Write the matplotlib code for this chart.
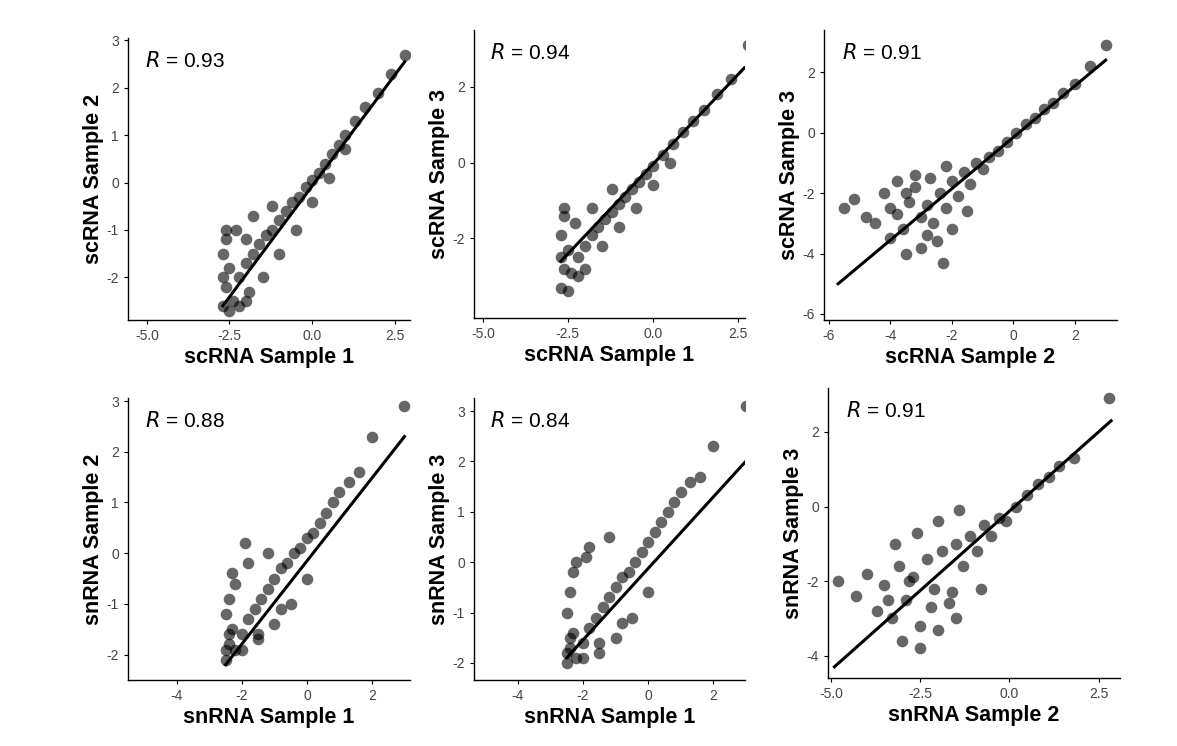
import matplotlib
matplotlib.use("Agg")
import matplotlib.pyplot as plt

plt.rcParams["font.family"] = "Liberation Sans"

# ---- data (hand-read representative points) ----
p1_x = [-2.7,-2.6,-2.5,-2.7,-2.6,-2.4,-2.2,-2.0,-1.8,-1.6,-1.4,-1.2,-1.0,-0.8,-0.6,-0.4,-0.2,0.0,0.2,0.4,0.6,0.8,1.0,1.3,1.6,2.0,2.4,2.8,-2.0,-1.5,-1.0,-0.5,0.0,0.5,1.0,-2.3,-1.8,-2.5,-2.0,-1.2,-2.7,-2.2,-1.9,-2.6]
p1_y = [-2.6,-2.2,-1.8,-1.5,-1.2,-2.5,-2.0,-1.7,-1.5,-1.3,-1.1,-1.0,-0.8,-0.6,-0.4,-0.3,-0.1,0.05,0.2,0.4,0.6,0.8,1.0,1.3,1.6,1.9,2.3,2.7,-2.5,-2.0,-1.5,-1.0,-0.4,0.1,0.7,-1.0,-0.7,-2.7,-1.2,-0.5,-2.0,-2.6,-2.3,-1.0]
p1_line = ([-2.7, 2.8], [-2.6, 2.55])

p2_x = [-2.7,-2.6,-2.5,-2.7,-2.6,-2.4,-2.2,-2.0,-1.8,-1.6,-1.4,-1.2,-1.0,-0.8,-0.6,-0.4,-0.2,0.0,0.3,0.6,0.9,1.2,1.5,1.9,2.3,2.8,-2.0,-1.5,-1.0,-0.5,0.0,0.5,-2.3,-1.8,-2.5,-1.2,-2.7,-2.2,-2.6]
p2_y = [-3.3,-2.8,-2.3,-1.9,-1.4,-2.9,-2.5,-2.2,-1.9,-1.7,-1.5,-1.3,-1.1,-0.9,-0.7,-0.5,-0.3,-0.1,0.2,0.5,0.8,1.1,1.4,1.8,2.2,3.1,-2.8,-2.2,-1.7,-1.2,-0.6,0.0,-1.6,-1.2,-3.4,-0.7,-2.5,-3.0,-1.2]
p2_line = ([-2.7, 2.7], [-2.6, 2.5])

p3_x = [-5.5,-5.2,-4.8,-4.5,-4.2,-4.0,-3.8,-3.6,-3.4,-3.2,-3.0,-2.8,-2.6,-2.4,-2.2,-2.0,-1.8,-1.6,-1.4,-1.2,-1.0,-0.8,-0.5,-0.2,0.1,0.4,0.7,1.0,1.3,1.6,2.0,2.5,3.0,-3.5,-3.0,-2.5,-2.0,-3.8,-3.2,-2.7,-2.2,-1.5,-4.0,-3.5,-2.8,-2.3]
p3_y = [-2.5,-2.2,-2.8,-3.0,-2.0,-3.5,-2.7,-3.2,-2.3,-1.8,-2.8,-2.4,-3.0,-2.0,-2.5,-1.6,-2.1,-1.3,-1.7,-1.0,-1.2,-0.8,-0.6,-0.3,0.0,0.3,0.5,0.8,1.0,1.3,1.6,2.2,2.9,-4.0,-3.8,-3.6,-3.2,-1.6,-1.4,-1.5,-1.1,-2.6,-2.5,-2.0,-3.4,-4.3]
p3_line = ([-5.7, 3.0], [-5.0, 2.4])

p4_x = [-2.5,-2.4,-2.3,-2.5,-2.4,-2.2,-2.0,-1.8,-1.6,-1.4,-1.2,-1.0,-0.8,-0.6,-0.4,-0.2,0.0,0.2,0.4,0.6,0.8,1.0,1.3,1.6,2.0,3.0,-2.0,-1.5,-1.0,-0.5,0.0,-2.3,-1.8,-2.5,-1.2,-2.2,-1.9,-1.5,-0.8,-2.4]
p4_y = [-2.1,-1.8,-1.5,-1.2,-0.9,-1.9,-1.6,-1.3,-1.1,-0.9,-0.7,-0.5,-0.3,-0.2,0.0,0.1,0.3,0.4,0.6,0.8,1.0,1.2,1.4,1.6,2.3,2.9,-1.9,-1.7,-1.4,-1.0,-0.5,-0.4,-0.2,-1.9,0.0,-0.6,0.2,-1.6,-1.1,-1.6]
p4_line = ([-2.5, 3.0], [-2.2, 2.3])

p5_x = [-2.5,-2.4,-2.3,-2.5,-2.4,-2.2,-2.0,-1.8,-1.6,-1.4,-1.2,-1.0,-0.8,-0.6,-0.4,-0.2,0.0,0.2,0.4,0.6,0.8,1.0,1.3,1.6,2.0,3.0,-2.0,-1.5,-1.0,-0.5,0.0,-2.3,-1.8,-2.5,-1.2,-2.2,-1.9,-1.5,-0.8,-2.4]
p5_y = [-2.0,-1.7,-1.4,-1.0,-0.6,-1.9,-1.6,-1.3,-1.1,-0.9,-0.7,-0.5,-0.3,-0.2,0.0,0.2,0.4,0.6,0.8,1.0,1.2,1.4,1.6,1.7,2.3,3.1,-1.9,-1.8,-1.5,-1.1,-0.6,-0.2,0.3,-1.8,0.5,0.0,0.1,-1.6,-1.2,-1.5]
p5_line = ([-2.5, 3.0], [-1.9, 2.0])

p6_x = [-4.8,-4.3,-4.0,-3.7,-3.5,-3.3,-3.1,-2.9,-2.7,-2.5,-2.3,-2.1,-1.9,-1.7,-1.5,-1.3,-1.1,-0.9,-0.7,-0.5,-0.3,-0.1,0.2,0.5,0.8,1.1,1.4,1.8,2.8,-3.0,-2.5,-2.0,-1.5,-3.2,-2.6,-2.0,-1.4,-0.8,-3.4,-2.8,-2.2,-1.6]
p6_y = [-2.0,-2.4,-1.8,-2.8,-2.1,-3.0,-1.6,-2.5,-1.9,-3.2,-1.4,-2.2,-1.2,-2.6,-1.0,-1.6,-0.8,-1.2,-0.5,-0.8,-0.3,-0.4,0.0,0.3,0.6,0.8,1.1,1.3,2.9,-3.6,-3.8,-3.3,-3.0,-1.0,-0.7,-0.4,-0.1,-2.2,-2.5,-2.0,-2.7,-2.3]
p6_line = ([-4.9, 2.85], [-4.3, 2.3])

panels = [
    (p1_x, p1_y, p1_line, "scRNA Sample 1", "scRNA Sample 2", "0.93", (-5.57, 2.96), (-2.9, 3.05), [-5.0, -2.5, 0.0, 2.5], [-2, -1, 0, 1, 2, 3], "%.1f"),
    (p2_x, p2_y, p2_line, "scRNA Sample 1", "scRNA Sample 3", "0.94", (-5.26, 2.72), (-4.1, 3.5), [-5.0, -2.5, 0.0, 2.5], [-2, 0, 2], "%.1f"),
    (p3_x, p3_y, p3_line, "scRNA Sample 2", "scRNA Sample 3", "0.91", (-6.16, 3.37), (-6.2, 3.4), [-6, -4, -2, 0, 2], [-6, -4, -2, 0, 2], "%d"),
    (p4_x, p4_y, p4_line, "snRNA Sample 1", "snRNA Sample 2", "0.88", (-5.5, 3.17), (-2.5, 3.06), [-4, -2, 0, 2], [-2, -1, 0, 1, 2, 3], "%d"),
    (p5_x, p5_y, p5_line, "snRNA Sample 1", "snRNA Sample 3", "0.84", (-5.35, 2.98), (-2.34, 3.26), [-4, -2, 0, 2], [-2, -1, 0, 1, 2, 3], "%d"),
    (p6_x, p6_y, p6_line, "snRNA Sample 2", "snRNA Sample 3", "0.91", (-5.08, 3.1), (-4.6, 3.18), [-5.0, -2.5, 0.0, 2.5], [-4, -2, 0, 2], "%.1f"),
]

# axes boxes in pixels: left, top, right, bottom
boxes = [(128, 38, 410, 320), (474, 30, 745, 318), (824, 30, 1117, 320),
         (128, 398, 410, 680), (474, 398, 745, 680), (828, 388, 1120, 678)]

W, H = 1177, 746
fig = plt.figure(figsize=(W / 100, H / 100), dpi=100)
fig.patch.set_facecolor("white")

for (xs, ys, line, xl, yl, r, xlim, ylim, xt, yt, fmt), (l, t, rr, b) in zip(panels, boxes):
    ax = fig.add_axes([l / W, 1 - b / H, (rr - l) / W, (b - t) / H])
    ax.scatter(xs, ys, s=70, color="black", alpha=0.6, linewidths=0)
    ax.plot(line[0], line[1], color="black", lw=2.2)
    ax.set_xlim(*xlim)
    ax.set_ylim(*ylim)
    ax.set_xticks(xt)
    ax.set_yticks(yt)
    ax.set_xticklabels([fmt % v for v in xt])
    ax.set_yticklabels([str(v) for v in yt])
    for s in ("top", "right"):
        ax.spines[s].set_visible(False)
    for s in ("left", "bottom"):
        ax.spines[s].set_linewidth(1.0)
    ax.tick_params(labelsize=10, colors="#444444", length=3)
    ax.tick_params(axis="both", color="black")
    ax.set_xlabel(xl, fontsize=15.5, fontweight="bold", labelpad=3)
    ax.set_ylabel(yl, fontsize=15.5, fontweight="bold", labelpad=2)
    ax.text(0.06, 0.92, "$R$ = " + r, transform=ax.transAxes, fontsize=15, va="center")

fig.savefig("out.png", dpi=100)
